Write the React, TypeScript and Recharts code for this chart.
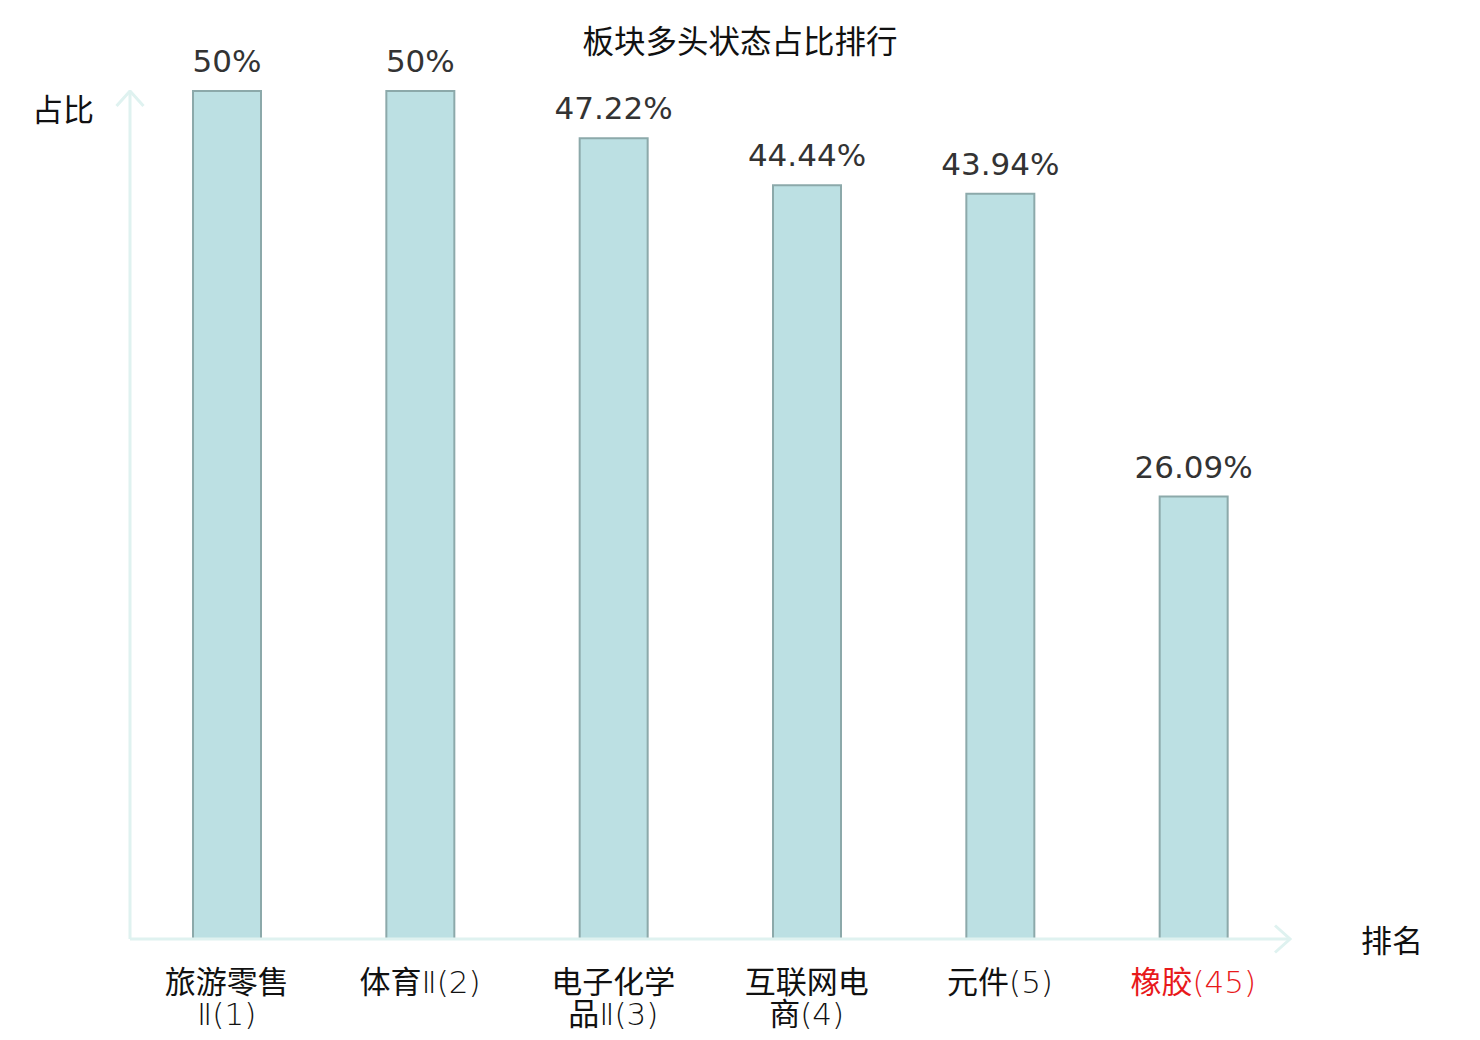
import { BarChart, Bar, XAxis, YAxis, LabelList } from 'recharts';

const categories = ['旅游零售Ⅱ(1)', '体育Ⅱ(2)', '电子化学品Ⅱ(3)', '互联网电商(4)', '元件(5)', '橡胶(45)'];
const tickLines = [
  ['旅游零售', 'Ⅱ(1)'],
  ['体育Ⅱ(2)'],
  ['电子化学', '品Ⅱ(3)'],
  ['互联网电', '商(4)'],
  ['元件(5)'],
  ['橡胶(45)'],
];
const ratios = [50, 50, 47.22, 44.44, 43.94, 26.09];
const highlight = '橡胶(45)';

const data = categories.map((name, i) => ({ name, value: ratios[i] }));

const FONT = '"DejaVu Sans", "Noto Sans CJK SC", sans-serif';

// CJK parts in regular weight, latin/digit parts thin like the reference
function splitRuns(line: string) {
  return line.split(/([\u4e00-\u9fff]+)/).filter((s) => s.length > 0);
}

function CategoryTick(props: any) {
  const { x, y, payload, index } = props;
  const lines = tickLines[index] ?? [payload.value];
  const color = payload.value === highlight ? '#e8191b' : '#111';
  return (
    <text x={x} y={y} textAnchor="middle" fill={color} fontSize={31} fontFamily={FONT}>
      {lines.map((line: string, i: number) => (
        <tspan key={i} x={x} dy={i === 0 ? 46 : 32}>
          {splitRuns(line).map((run, j) => (
            <tspan key={j} fontWeight={/[\u4e00-\u9fff]/.test(run) ? 400 : 200}>
              {run}
            </tspan>
          ))}
        </tspan>
      ))}
    </text>
  );
}

export default function App() {
  return (
    <div style={{ position: 'absolute', left: 0, top: 0, width: 1480, height: 1040, background: '#fff' }}>
      <BarChart
        width={1480}
        height={1040}
        data={data}
        margin={{ top: 91, right: 190, left: 129, bottom: 71 }}
        barSize={68}
      >
        <defs>
          <marker
            id="axisArrow"
            viewBox="0 0 12 20"
            refX="11"
            refY="10"
            markerWidth="6"
            markerHeight="10"
            markerUnits="strokeWidth"
            orient="auto-start-reverse"
          >
            <path d="M1,1 L11,10 L1,19" fill="none" stroke="#dff2f0" strokeWidth={2} />
          </marker>
        </defs>
        <text x={740} y={53} textAnchor="middle" fontSize={31.5} fill="#111" fontFamily={FONT}>
          板块多头状态占比排行
        </text>
        <text x={63} y={121} textAnchor="middle" fontSize={31} fill="#111" fontFamily={FONT}>
          占比
        </text>
        <text x={1392} y={952} textAnchor="middle" fontSize={31} fill="#111" fontFamily={FONT}>
          排名
        </text>
        <XAxis
          dataKey="name"
          interval={0}
          height={30}
          tickLine={false}
          axisLine={{ stroke: '#dff2f0', strokeWidth: 3, markerEnd: 'url(#axisArrow)' } as any}
          tick={<CategoryTick />}
        />
        <YAxis
          domain={[0, 50]}
          width={1}
          tick={false}
          tickLine={false}
          axisLine={{ stroke: '#dff2f0', strokeWidth: 3, markerStart: 'url(#axisArrow)' } as any}
        />
        <Bar dataKey="value" fill="#bce0e3" stroke="#8ca9aa" strokeWidth={2} isAnimationActive={false}>
          <LabelList
            dataKey="value"
            position="top"
            offset={19}
            formatter={(v: any) => `${v}%`}
            fill="#333"
            fontSize={31}
            fontFamily={FONT}
          />
        </Bar>
      </BarChart>
    </div>
  );
}
